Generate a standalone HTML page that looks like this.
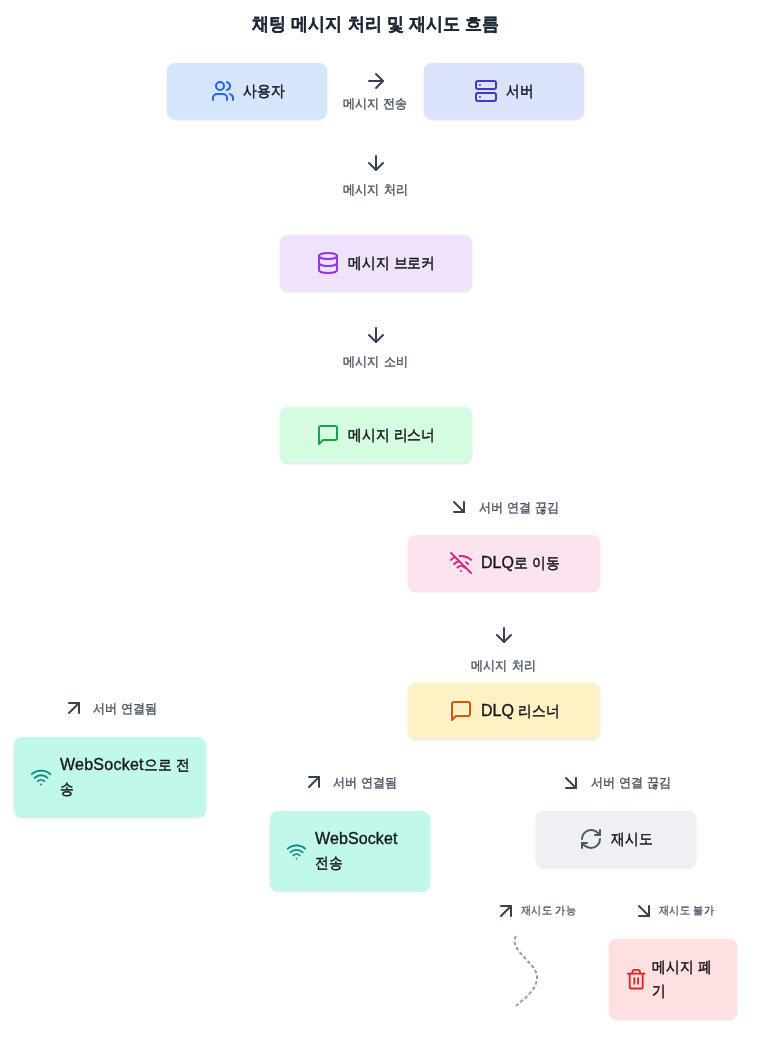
<!DOCTYPE html>
<html lang="ko"><head><meta charset="utf-8"><title>채팅 메시지 처리 및 재시도 흐름</title>
<style>
html,body{margin:0;padding:0;background:#fff;width:760px;height:1044px;overflow:hidden;position:relative;font-family:'Liberation Sans',sans-serif}
.bx{position:absolute;border-radius:8px;box-shadow:0 1px 3px 0 rgba(0,0,0,.1),0 1px 2px -1px rgba(0,0,0,.1)}
.ic{position:absolute;display:block}
.t{position:absolute;white-space:nowrap;will-change:transform}
.t i{font-style:normal;display:inline-block;width:.86em;transform:scaleX(.86);transform-origin:0 50%}
.ti{font-size:19px;line-height:28px;font-weight:700;color:#1f2937;-webkit-text-stroke:.2px #1f2937}
.nl{font-size:16px;line-height:24px;color:#15161a;-webkit-text-stroke:.35px #15161a}
.el{font-size:14px;line-height:20px;color:#4b5563;-webkit-text-stroke:.4px #4b5563}
.sl{font-size:12px;line-height:16px;color:#4b5563;-webkit-text-stroke:.3px #4b5563}
.ti i{font-size:18px;width:.9447em;transform:scaleX(.9447)}
.nl i{-webkit-text-stroke:.5px #15161a;font-size:15px;width:.9173em;transform:scaleX(.9173)}
.el i{font-size:13px;width:.926em;transform:scaleX(.926)}
.sl i{font-size:11.2px;width:.921em;transform:scaleX(.921)}
</style></head><body>
<svg style="position:absolute;left:495px;top:925px;overflow:visible" width="60" height="90"><path d="M21 11 C 13 25, 42 38, 42 52 S 28 74, 21 81" fill="none" stroke="#969ca6" stroke-width="2" stroke-dasharray="3.58 2.28"/></svg>
<div class="bx" style="left:167px;top:63px;width:160px;height:56px;background:#d4e5fc"></div>
<div class="bx" style="left:424px;top:63px;width:160px;height:56px;background:#dbe2fc"></div>
<div class="bx" style="left:280px;top:235px;width:192px;height:56px;background:#efe3fc"></div>
<div class="bx" style="left:280px;top:407px;width:192px;height:56px;background:#d5fbe1"></div>
<div class="bx" style="left:408px;top:535px;width:192px;height:56px;background:#fce3f0"></div>
<div class="bx" style="left:408px;top:683px;width:192px;height:56px;background:#fef1c4"></div>
<div class="bx" style="left:14px;top:737px;width:192px;height:80px;background:#c0f8ec"></div>
<div class="bx" style="left:270px;top:811px;width:160px;height:80px;background:#c0f8ec"></div>
<div class="bx" style="left:536px;top:811px;width:160px;height:56px;background:#eff0f3"></div>
<div class="bx" style="left:609px;top:939px;width:128px;height:80px;background:#fee0e0"></div>
<svg class="ic" style="left:211px;top:79px;width:24px;height:24px;color:#2563eb" viewBox="0 0 24 24" fill="none" stroke="currentColor" stroke-width="2" stroke-linecap="round" stroke-linejoin="round"><path d="M16 21v-2a4 4 0 0 0-4-4H6a4 4 0 0 0-4 4v2"/><circle cx="9" cy="7" r="4"/><path d="M22 21v-2a4 4 0 0 0-3-3.87"/><path d="M16 3.13a4 4 0 0 1 0 7.75"/></svg>
<svg class="ic" style="left:474px;top:79px;width:24px;height:24px;color:#4338ca" viewBox="0 0 24 24" fill="none" stroke="currentColor" stroke-width="2" stroke-linecap="round" stroke-linejoin="round"><rect width="20" height="8" x="2" y="2" rx="2" ry="2"/><rect width="20" height="8" x="2" y="14" rx="2" ry="2"/><line x1="6" x2="6.01" y1="6" y2="6"/><line x1="6" x2="6.01" y1="18" y2="18"/></svg>
<svg class="ic" style="left:316px;top:251px;width:24px;height:24px;color:#9333ea" viewBox="0 0 24 24" fill="none" stroke="currentColor" stroke-width="2" stroke-linecap="round" stroke-linejoin="round"><ellipse cx="12" cy="5" rx="9" ry="3"/><path d="M3 5V19A9 3 0 0 0 21 19V5"/><path d="M3 12A9 3 0 0 0 21 12"/></svg>
<svg class="ic" style="left:316px;top:423px;width:24px;height:24px;color:#16a34a" viewBox="0 0 24 24" fill="none" stroke="currentColor" stroke-width="2" stroke-linecap="round" stroke-linejoin="round"><path d="M21 15a2 2 0 0 1-2 2H7l-4 4V5a2 2 0 0 1 2-2h14a2 2 0 0 1 2 2z"/></svg>
<svg class="ic" style="left:449px;top:551px;width:24px;height:24px;color:#db2777" viewBox="0 0 24 24" fill="none" stroke="currentColor" stroke-width="2" stroke-linecap="round" stroke-linejoin="round"><line x1="2" x2="22" y1="2" y2="22"/><path d="M8.5 16.5a5 5 0 0 1 7 0"/><path d="M2 8.82a15 15 0 0 1 4.17-2.65"/><path d="M10.66 5c4.01-.36 8.14.9 11.34 3.76"/><path d="M16.85 11.25a10 10 0 0 1 2.22 1.68"/><path d="M5 13a10 10 0 0 1 5.24-2.76"/><line x1="12" x2="12.01" y1="20" y2="20"/></svg>
<svg class="ic" style="left:449px;top:699px;width:24px;height:24px;color:#cc5a14" viewBox="0 0 24 24" fill="none" stroke="currentColor" stroke-width="2" stroke-linecap="round" stroke-linejoin="round"><path d="M21 15a2 2 0 0 1-2 2H7l-4 4V5a2 2 0 0 1 2-2h14a2 2 0 0 1 2 2z"/></svg>
<svg class="ic" style="left:29.7px;top:765.7px;width:22.2px;height:22.2px;color:#0f857a" viewBox="0 0 24 24" fill="none" stroke="currentColor" stroke-width="2" stroke-linecap="round" stroke-linejoin="round"><path d="M12 20h.01"/><path d="M2 8.82a15 15 0 0 1 20 0"/><path d="M5 12.859a10 10 0 0 1 14 0"/><path d="M8.5 16.429a5 5 0 0 1 7 0"/></svg>
<svg class="ic" style="left:286px;top:840.5px;width:21px;height:21px;color:#0f857a" viewBox="0 0 24 24" fill="none" stroke="currentColor" stroke-width="2" stroke-linecap="round" stroke-linejoin="round"><path d="M12 20h.01"/><path d="M2 8.82a15 15 0 0 1 20 0"/><path d="M5 12.859a10 10 0 0 1 14 0"/><path d="M8.5 16.429a5 5 0 0 1 7 0"/></svg>
<svg class="ic" style="left:579px;top:827px;width:24px;height:24px;color:#4b5563" viewBox="0 0 24 24" fill="none" stroke="currentColor" stroke-width="2" stroke-linecap="round" stroke-linejoin="round"><path d="M3 12a9 9 0 0 1 9-9 9.75 9.75 0 0 1 6.74 2.74L21 8"/><path d="M21 3v5h-5"/><path d="M21 12a9 9 0 0 1-9 9 9.75 9.75 0 0 1-6.74-2.74L3 16"/><path d="M8 16H3v5"/></svg>
<svg class="ic" style="left:625.2px;top:967.6px;width:22.4px;height:22.4px;color:#dc2626" viewBox="0 0 24 24" fill="none" stroke="currentColor" stroke-width="2" stroke-linecap="round" stroke-linejoin="round"><path d="M3 6h18"/><path d="M19 6v14c0 1-1 2-2 2H7c-1 0-2-1-2-2V6"/><path d="M8 6V4c0-1 1-2 2-2h4c1 0 2 1 2 2v2"/><line x1="10" x2="10" y1="11" y2="17"/><line x1="14" x2="14" y1="11" y2="17"/></svg>
<svg class="ic" style="left:364px;top:69px;width:24px;height:24px;color:#374151" viewBox="0 0 24 24" fill="none" stroke="currentColor" stroke-width="2" stroke-linecap="round" stroke-linejoin="round"><path d="M5 12h14"/><path d="m12 5 7 7-7 7"/></svg>
<svg class="ic" style="left:364px;top:151px;width:24px;height:24px;color:#374151" viewBox="0 0 24 24" fill="none" stroke="currentColor" stroke-width="2" stroke-linecap="round" stroke-linejoin="round"><path d="M12 5v14"/><path d="m19 12-7 7-7-7"/></svg>
<svg class="ic" style="left:364px;top:323px;width:24px;height:24px;color:#374151" viewBox="0 0 24 24" fill="none" stroke="currentColor" stroke-width="2" stroke-linecap="round" stroke-linejoin="round"><path d="M12 5v14"/><path d="m19 12-7 7-7-7"/></svg>
<svg class="ic" style="left:447px;top:495px;width:24px;height:24px;color:#374151" viewBox="0 0 24 24" fill="none" stroke="currentColor" stroke-width="2" stroke-linecap="round" stroke-linejoin="round"><path d="m7 7 10 10"/><path d="M17 7v10H7"/></svg>
<svg class="ic" style="left:492px;top:623px;width:24px;height:24px;color:#374151" viewBox="0 0 24 24" fill="none" stroke="currentColor" stroke-width="2" stroke-linecap="round" stroke-linejoin="round"><path d="M12 5v14"/><path d="m19 12-7 7-7-7"/></svg>
<svg class="ic" style="left:62px;top:696.4px;width:24px;height:24px;color:#374151" viewBox="0 0 24 24" fill="none" stroke="currentColor" stroke-width="2" stroke-linecap="round" stroke-linejoin="round"><path d="M7 7h10v10"/><path d="M7 17 17 7"/></svg>
<svg class="ic" style="left:302px;top:770.4px;width:24px;height:24px;color:#374151" viewBox="0 0 24 24" fill="none" stroke="currentColor" stroke-width="2" stroke-linecap="round" stroke-linejoin="round"><path d="M7 7h10v10"/><path d="M7 17 17 7"/></svg>
<svg class="ic" style="left:559px;top:771px;width:24px;height:24px;color:#374151" viewBox="0 0 24 24" fill="none" stroke="currentColor" stroke-width="2" stroke-linecap="round" stroke-linejoin="round"><path d="m7 7 10 10"/><path d="M17 7v10H7"/></svg>
<svg class="ic" style="left:494px;top:899px;width:24px;height:24px;color:#374151" viewBox="0 0 24 24" fill="none" stroke="currentColor" stroke-width="2" stroke-linecap="round" stroke-linejoin="round"><path d="M7 7h10v10"/><path d="M7 17 17 7"/></svg>
<svg class="ic" style="left:632px;top:899px;width:24px;height:24px;color:#374151" viewBox="0 0 24 24" fill="none" stroke="currentColor" stroke-width="2" stroke-linecap="round" stroke-linejoin="round"><path d="m7 7 10 10"/><path d="M17 7v10H7"/></svg>
<div class="t ti" style="left:252px;top:10px;"><i>채</i><i>팅</i> <i>메</i><i>시</i><i>지</i> <i>처</i><i>리</i> <i>및</i> <i>재</i><i>시</i><i>도</i> <i>흐</i><i>름</i></div>
<div class="t nl" style="left:243px;top:79px;"><i>사</i><i>용</i><i>자</i></div>
<div class="t nl" style="left:506px;top:79px;"><i>서</i><i>버</i></div>
<div class="t nl" style="left:348px;top:251px;"><i>메</i><i>시</i><i>지</i> <i>브</i><i>로</i><i>커</i></div>
<div class="t nl" style="left:348px;top:423px;"><i>메</i><i>시</i><i>지</i> <i>리</i><i>스</i><i>너</i></div>
<div class="t nl" style="left:481px;top:551px;">DLQ<i>로</i> <i>이</i><i>동</i></div>
<div class="t nl" style="left:481px;top:699px;">DLQ <i>리</i><i>스</i><i>너</i></div>
<div class="t nl" style="left:60px;top:753px;letter-spacing:.25px">WebSocket<i>으</i><i>로</i> <i>전</i><br><i>송</i></div>
<div class="t nl" style="left:315px;top:827px;letter-spacing:.1px">WebSocket<br><i>전</i><i>송</i></div>
<div class="t nl" style="left:611px;top:827px;"><i>재</i><i>시</i><i>도</i></div>
<div class="t nl" style="left:652px;top:955px;"><i>메</i><i>시</i><i>지</i> <i>폐</i><br><i>기</i></div>
<div class="t el" style="left:343px;top:92.5px;"><i>메</i><i>시</i><i>지</i> <i>전</i><i>송</i></div>
<div class="t el" style="left:343px;top:178.5px;letter-spacing:.8px"><i>메</i><i>시</i><i>지</i> <i>처</i><i>리</i></div>
<div class="t el" style="left:343px;top:350.5px;letter-spacing:.8px"><i>메</i><i>시</i><i>지</i> <i>소</i><i>비</i></div>
<div class="t el" style="left:479px;top:496.5px;"><i>서</i><i>버</i> <i>연</i><i>결</i> <i>끊</i><i>김</i></div>
<div class="t el" style="left:471px;top:654.5px;letter-spacing:.8px"><i>메</i><i>시</i><i>지</i> <i>처</i><i>리</i></div>
<div class="t el" style="left:93px;top:697.5px;"><i>서</i><i>버</i> <i>연</i><i>결</i><i>됨</i></div>
<div class="t el" style="left:333px;top:771.5px;"><i>서</i><i>버</i> <i>연</i><i>결</i><i>됨</i></div>
<div class="t el" style="left:591px;top:771.5px;"><i>서</i><i>버</i> <i>연</i><i>결</i> <i>끊</i><i>김</i></div>
<div class="t sl" style="left:521px;top:902px;"><i>재</i><i>시</i><i>도</i> <i>가</i><i>능</i></div>
<div class="t sl" style="left:659px;top:902px;"><i>재</i><i>시</i><i>도</i> <i>불</i><i>가</i></div>
</body></html>
